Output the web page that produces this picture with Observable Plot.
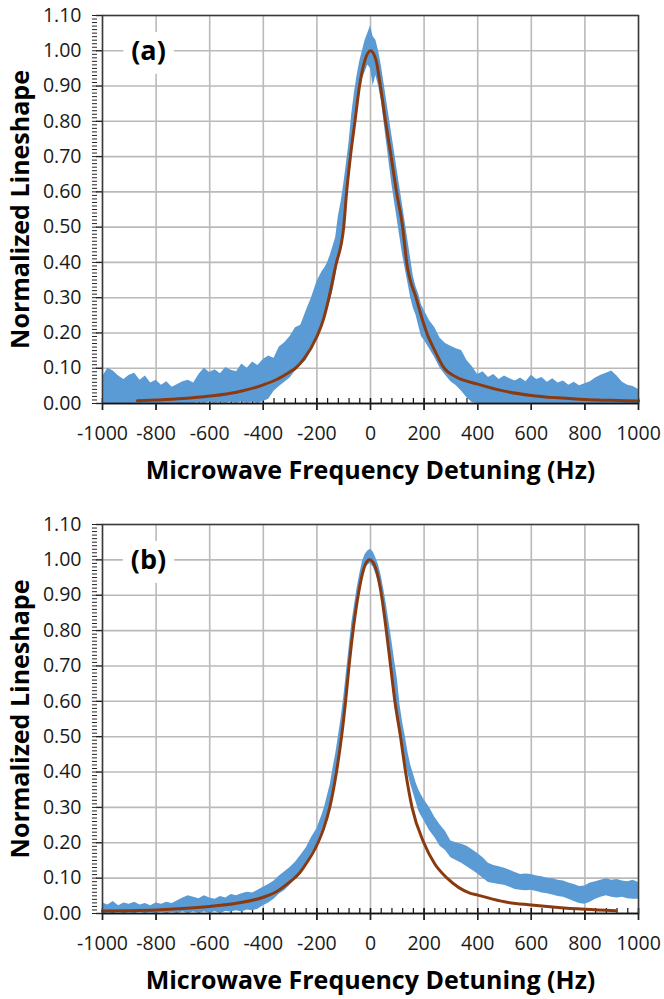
<!DOCTYPE html>
<html>
<head>
<meta charset="utf-8">
<script src="https://cdn.jsdelivr.net/npm/d3@7"></script>
<script src="https://cdn.jsdelivr.net/npm/@observablehq/plot@0.6"></script>
<style>
  html, body { margin: 0; padding: 0; background: #fff; }
  #chart { width: 664px; }
  #chart svg { display: block; }
</style>
</head>
<body>
<div id="chart"></div>
<script>
// ---------- tick values ----------
const xTicks = [-1000, -800, -600, -400, -200, 0, 200, 400, 600, 800, 1000];
const yTicks = [0, 0.1, 0.2, 0.3, 0.4, 0.5, 0.6, 0.7, 0.8, 0.9, 1.0, 1.1];
const xMinor = d3.range(-1000, 1001, 40);
const yMinor = d3.range(0, 111, 1).map(d => d / 100);

const xTitle = "Microwave Frequency Detuning (Hz)";
const yTitle = "Normalized Lineshape";

// ---------- panel (a): measured lineshape (noise band) ----------
const aHz = [
  -1000,-980,-960,-940,-920,-900,-880,-860,-840,-820,-800,-780,-760,-740,-720,-700,-680,-660,-640,-620,
  -600,-580,-560,-540,-520,-500,-480,-460,-440,-420,-400,-380,-360,-340,-320,-300,-280,-260,-240,-220,
  -200,-190,-180,-170,-160,-150,-140,-130,-120,-110,-100,-90,-80,-70,-60,-50,-40,-30,-20,-10,
  0,10,20,30,40,50,60,70,80,90,100,110,120,130,140,150,160,170,180,190,
  200,220,240,260,280,300,320,340,360,380,400,420,440,460,480,500,520,540,560,580,
  600,620,640,660,680,700,720,740,760,780,800,820,840,860,880,900,920,940,960,980,1000
];
const aLow = [
  0,0,0,0,0,0,0,0,0,0,0,0,0,0,0,0,0,0,0.002,0,
  0.004,0,0.003,0,0.004,0,0.005,0,0.004,0,0.006,0.012,0.035,0.048,0.060,0.072,0.092,0.108,0.122,0.150,
  0.185,0.200,0.225,0.245,0.265,0.290,0.320,0.360,0.410,0.450,0.480,0.560,0.630,0.700,0.770,0.830,0.880,0.920,0.940,0.960,
  0.950,0.900,0.930,0.900,0.860,0.800,0.740,0.680,0.620,0.570,0.520,0.470,0.420,0.380,0.340,0.300,0.270,0.250,0.220,0.190,
  0.180,0.155,0.130,0.100,0.080,0.062,0.050,0.035,0.016,0.002,0,0,0,0,0,0,0,0,0,0,
  0,0,0,0,0,0,0,0,0,0,0,0,0,0,0,0,0,0,0,0,0
];
const aHigh = [
  0.075,0.100,0.092,0.078,0.068,0.080,0.086,0.066,0.078,0.058,0.066,0.052,0.062,0.046,0.054,0.062,0.066,0.058,0.082,0.100,
  0.088,0.096,0.084,0.102,0.094,0.090,0.112,0.100,0.118,0.108,0.125,0.135,0.128,0.160,0.172,0.190,0.215,0.222,0.262,0.300,
  0.345,0.360,0.375,0.385,0.400,0.420,0.445,0.470,0.530,0.570,0.620,0.680,0.740,0.820,0.880,0.930,0.970,1.000,1.030,1.050,
  1.070,1.040,1.030,1.000,0.960,0.910,0.860,0.810,0.760,0.710,0.660,0.610,0.560,0.510,0.460,0.410,0.360,0.330,0.310,0.280,
  0.265,0.235,0.215,0.185,0.170,0.162,0.155,0.150,0.122,0.104,0.082,0.090,0.074,0.082,0.068,0.078,0.070,0.064,0.072,0.062,
  0.080,0.068,0.074,0.060,0.070,0.058,0.064,0.052,0.060,0.050,0.056,0.062,0.072,0.080,0.086,0.092,0.078,0.060,0.052,0.048,0.040
];
// panel (a): fitted lineshape
const aFitHz = [-870,-800,-700,-600,-500,-400,-350,-300,-280,-250,-200,-175,-155,-130,-100,-89,-75,-58,-41,-20,
  0,20,37,56,77,97,120,135,170,210,240,275,320,400,500,600,700,800,900,1000];
const aFitY = [0.008,0.010,0.014,0.021,0.032,0.053,0.068,0.090,0.100,0.125,0.190,0.240,0.300,0.390,0.500,0.600,0.700,0.800,0.900,0.975,
  1.000,0.975,0.900,0.800,0.700,0.600,0.500,0.400,0.300,0.200,0.150,0.100,0.075,0.055,0.035,0.023,0.016,0.011,0.009,0.007];

// ---------- panel (b): measured lineshape (noise band) ----------
const bHz = aHz;
const bLow = [
  0,0.002,0,0.003,0,0.002,0,0.003,0,0.002,0,0.003,0,0.003,0,0.004,0,0.004,0,0.004,
  0,0.005,0,0.006,0.004,0.008,0.004,0.010,0.008,0.012,0.022,0.030,0.040,0.055,0.065,0.080,0.100,0.120,0.140,0.170,
  0.195,0.215,0.235,0.255,0.280,0.310,0.350,0.385,0.430,0.480,0.540,0.610,0.680,0.750,0.810,0.870,0.910,0.950,0.975,0.985,
  0.990,0.980,0.960,0.935,0.900,0.855,0.800,0.745,0.690,0.630,0.580,0.520,0.470,0.430,0.395,0.365,0.340,0.315,0.290,0.275,
  0.262,0.235,0.215,0.190,0.178,0.158,0.150,0.142,0.132,0.122,0.112,0.100,0.088,0.085,0.082,0.080,0.074,0.068,0.066,0.064,
  0.066,0.062,0.058,0.056,0.052,0.048,0.046,0.040,0.034,0.028,0.026,0.032,0.040,0.046,0.050,0.046,0.044,0.046,0.042,0.040,0.040
];
const bHigh = [
  0.030,0.024,0.034,0.022,0.030,0.026,0.032,0.024,0.028,0.022,0.030,0.026,0.032,0.028,0.036,0.044,0.050,0.046,0.042,0.050,
  0.044,0.040,0.048,0.044,0.054,0.050,0.056,0.060,0.058,0.066,0.074,0.082,0.092,0.106,0.118,0.130,0.145,0.165,0.185,0.215,
  0.240,0.260,0.280,0.305,0.335,0.365,0.410,0.450,0.500,0.550,0.610,0.680,0.750,0.820,0.870,0.920,0.960,0.995,1.015,1.025,
  1.030,1.022,1.005,0.985,0.955,0.915,0.870,0.820,0.770,0.715,0.665,0.590,0.540,0.500,0.455,0.420,0.395,0.370,0.350,0.335,
  0.322,0.300,0.272,0.250,0.232,0.205,0.200,0.196,0.190,0.180,0.170,0.158,0.142,0.136,0.132,0.128,0.122,0.116,0.110,0.112,
  0.110,0.106,0.104,0.100,0.098,0.094,0.092,0.086,0.082,0.076,0.078,0.086,0.090,0.094,0.098,0.094,0.096,0.092,0.090,0.094,0.088
];
// panel (b): fitted lineshape
const bFitHz = [-1000,-900,-800,-700,-600,-500,-400,-350,-300,-270,-250,-196,-175,-152,-127,-108,-93,-80,-65,-46,
  -25,-4,15,41,59,75,91,112,131,155,199,240,286,373,400,500,600,700,800,915];
const bFitY = [0.007,0.008,0.010,0.014,0.020,0.029,0.046,0.062,0.090,0.110,0.130,0.200,0.240,0.300,0.400,0.500,0.600,0.700,0.800,0.900,
  0.975,1.000,0.985,0.900,0.800,0.700,0.600,0.500,0.400,0.300,0.200,0.140,0.100,0.057,0.052,0.033,0.024,0.017,0.012,0.008];

// ---------- styles ----------
const FONT = "'Open Sans', 'Noto Sans', sans-serif";
const BLUE = "#5b9bd5";
const BROWN = "#8b3a10";
const GRID = "#bababa";
const AXIS = "#3a3a3a";

function panel({tag, hz, low, high, fitHz, fitY, height, marginTop, marginBottom}) {
  const band = hz.map((x, i) => ({x, lo: low[i], hi: high[i]}));
  const fit = fitHz.map((x, i) => ({x, y: fitY[i]}));
  return Plot.plot({
    width: 664,
    height,
    marginLeft: 102,
    marginRight: 26,
    marginTop,
    marginBottom,
    style: {fontFamily: FONT, background: "#fff", color: "#222"},
    x: {domain: [-1000, 1000], label: null},
    y: {domain: [0, 1.1], label: null},
    marks: [
      Plot.gridX(xTicks, {stroke: GRID, strokeOpacity: 1, strokeWidth: 1.6}),
      Plot.gridY(yTicks, {stroke: GRID, strokeOpacity: 1, strokeWidth: 1.6}),
      // minor x ticks (inside, upward)
      Plot.axisX(xMinor, {anchor: "bottom", tickSize: 5, insetBottom: 5, text: null, stroke: "#111", strokeWidth: 1.2}),
      // major x ticks crossing the axis
      Plot.axisX(xTicks, {anchor: "bottom", tickSize: 12, insetBottom: 5, text: null, stroke: "#111", strokeWidth: 1.4}),
      Plot.areaY(band, {x: "x", y1: "lo", y2: "hi", fill: BLUE, fillOpacity: 1, curve: "linear"}),
      Plot.line(fit, {x: "x", y: "y", stroke: BROWN, strokeWidth: 3, curve: "monotone-x"}),
      Plot.frame({stroke: AXIS, strokeWidth: 1.5}),
      Plot.ruleY([0], {stroke: "#111", strokeWidth: 1.6}),
      // minor y ticks (inside)
      Plot.axisY(yMinor, {anchor: "left", tickSize: 5, insetLeft: -5, text: null, stroke: "#222", strokeWidth: 1}),
      // major y ticks & labels
      Plot.axisY(yTicks, {anchor: "left", tickSize: 6, tickPadding: 15, tickFormat: d => d.toFixed(2),
        fontSize: 19.5, fill: "#1a1a1a", stroke: "#222", strokeWidth: 1.4, label: null}),
      // x tick labels
      Plot.axisX(xTicks, {anchor: "bottom", tickSize: 7, tickPadding: 16, tickFormat: d => String(d),
        fontSize: 19.5, fill: "#1a1a1a", stroke: "#222", strokeWidth: 1.4, label: null}),
      // axis titles
      Plot.text([xTitle], {frameAnchor: "bottom", dy: 67, lineAnchor: "middle", textAnchor: "middle",
        fontSize: 25, fontWeight: "bold", fill: "#000"}),
      Plot.text([yTitle], {frameAnchor: "left", dx: -82, rotate: -90, lineAnchor: "middle", textAnchor: "middle",
        fontSize: 25, fontWeight: "bold", fill: "#000"}),
      // panel tag with white box
      Plot.text([tag], {frameAnchor: "top-left", dx: 46, dy: 36, lineAnchor: "middle", textAnchor: "middle",
        fontSize: 27, fontWeight: "bold", fill: "#000", stroke: "#fff", strokeWidth: 18, strokeLinejoin: "miter"})
    ]
  });
}

const chart = document.getElementById("chart");
chart.appendChild(panel({tag: "(a)", hz: aHz, low: aLow, high: aHigh, fitHz: aFitHz, fitY: aFitY,
  height: 500, marginTop: 15, marginBottom: 97}));
chart.appendChild(panel({tag: "(b)", hz: bHz, low: bLow, high: bHigh, fitHz: bFitHz, fitY: bFitY,
  height: 499, marginTop: 24, marginBottom: 86}));
</script>
</body>
</html>
